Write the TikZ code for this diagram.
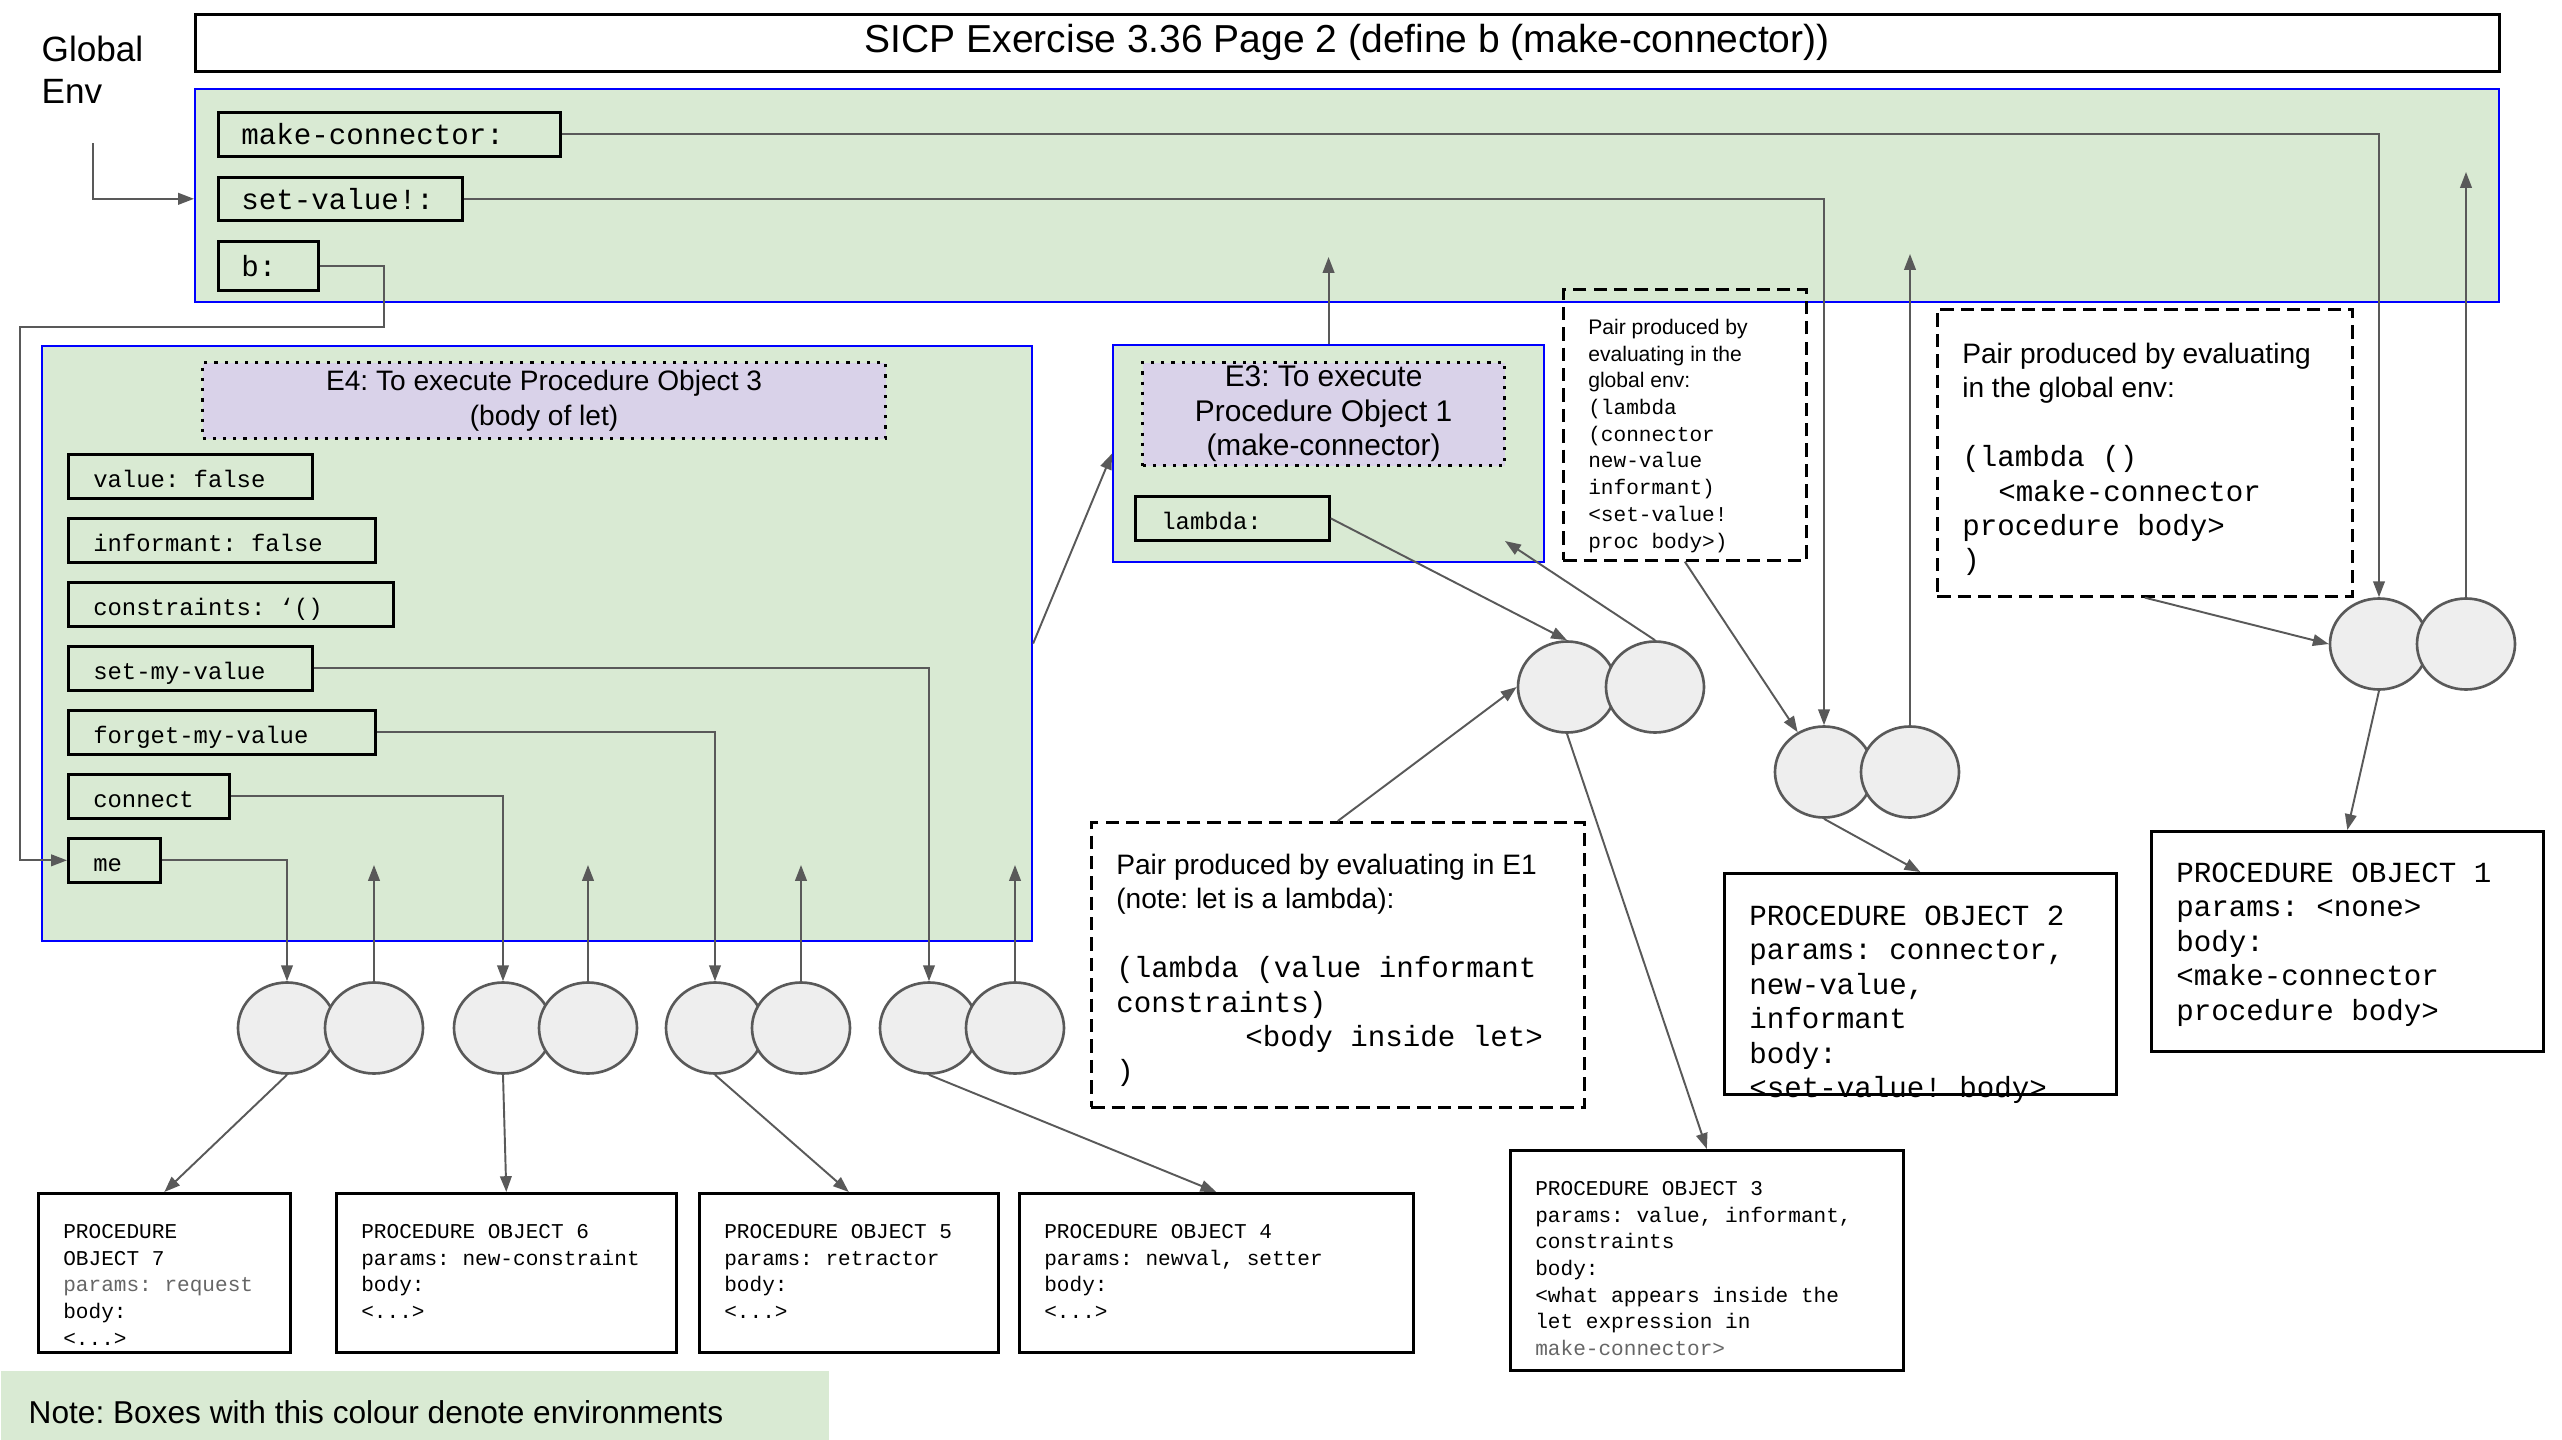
\documentclass[tikz,border=0pt]{standalone}
\usepackage{fontspec}
\setmainfont{Liberation Sans}
\setmonofont{Liberation Mono}
\usetikzlibrary{arrows.meta,shapes.geometric}

\definecolor{envgreen}{HTML}{D9EAD3}
\definecolor{envblue}{HTML}{0000FF}
\definecolor{hdrlilac}{HTML}{D9D2E9}
\definecolor{cellgray}{HTML}{EEEEEE}
\definecolor{wiregray}{HTML}{595959}
\definecolor{fadetext}{HTML}{666666}

\frenchspacing
\newcommand{\titlefont}{\fontsize{11.1}{13}\selectfont}
\newcommand{\envfont}{\fontsize{10}{12}\selectfont}
\newcommand{\hdrfont}{\fontsize{8}{10}\selectfont}
\newcommand{\hdrbigfont}{\fontsize{8.5}{9.8}\selectfont}
\newcommand{\notesans}{\fontsize{8}{9.8}\selectfont}
\newcommand{\legendfont}{\fontsize{9}{11}\selectfont}
\newcommand{\smallsans}{\fontsize{6}{7.6}\selectfont}
\newcommand{\bigcode}{\ttfamily\fontsize{8.3}{9.8}\selectfont\spaceskip=0.6em\relax}
\newcommand{\midcode}{\ttfamily\fontsize{6.8}{8}\selectfont\spaceskip=0.6em\relax}
\newcommand{\smallcode}{\ttfamily\fontsize{6}{7.6}\selectfont\spaceskip=0.6em\relax}

\begin{document}
\begin{tikzpicture}
  [envbox/.style={draw=envblue, fill=envgreen, line width=0.6pt, anchor=north west, inner sep=0pt},
   hdrbox/.style={draw, dotted, fill=hdrlilac, line width=0.9pt, anchor=north west, align=flush center, inner sep=0pt},
   gvar/.style={draw, line width=0.75pt, anchor=north west, align=flush left, inner xsep=0.23cm, inner ysep=0pt, font=\bigcode, text height=6.2pt, text depth=0.4pt},
   evar/.style={draw, line width=0.75pt, anchor=north west, align=flush left, inner xsep=0.25cm, inner ysep=0pt, font=\midcode, text height=6.1pt, text depth=0pt, minimum height=0.44cm},
   procbox/.style={draw, line width=0.75pt, anchor=north west, align=flush left, inner xsep=0.25cm, inner ysep=0pt},
   pairnote/.style={draw, line width=0.75pt, dash pattern=on 3.8pt off 2pt, anchor=north west, align=flush left, inner xsep=0.25cm, inner ysep=0pt},
   cell/.style={ellipse, draw=wiregray, fill=cellgray, line width=0.75pt, minimum width=0.98cm, minimum height=0.91cm, inner sep=0pt},
   link/.style={draw=wiregray, line width=0.55pt, -{Triangle[length=4.5pt,width=3.3pt]}}]
  \useasboundingbox (0,0) rectangle (25.62,-14.40);

  % global frame
  \node[anchor=north west, align=flush left, text width=1.5cm, inner sep=0pt, text height=0.31cm, font=\envfont] (genvlabel) at (0.41,-0.30) {Global\\Env};
  \node[draw, line width=0.75pt, anchor=north west, minimum width=23.04cm, minimum height=0.57cm, inner sep=0pt, font=\titlefont] (title) at (1.94,-0.13) {SICP Exercise 3.36 Page 2 (define b (make-connector))};
  \node[envbox, minimum width=23.04cm, minimum height=2.13cm] (global) at (1.94,-0.88) {};
  \node[gvar, text width=2.96cm, minimum height=0.44cm] (mk) at (2.17,-1.11) {make-connector:};
  \node[gvar, text width=1.98cm, minimum height=0.43cm] (setv) at (2.17,-1.76) {set-value!:};
  \node[gvar, text width=0.54cm, minimum height=0.49cm] (bvar) at (2.17,-2.40) {b:};

  % E4
  \node[envbox, minimum width=9.90cm, minimum height=5.95cm] (e4) at (0.41,-3.45) {};
  \node[hdrbox, minimum width=6.83cm, minimum height=0.76cm, font=\hdrfont] (e4hdr) at (2.01,-3.61) {E4: To execute Procedure Object 3\\(body of let)};
  \node[evar, text width=1.94cm] (value) at (0.67,-4.53) {value: false};
  \node[evar, text width=2.57cm] (informant) at (0.67,-5.17) {informant: false};
  \node[evar, text width=2.75cm] (constr) at (0.67,-5.81) {constraints: ‘()};
  \node[evar, text width=1.94cm] (setmy) at (0.67,-6.45) {set-my-value};
  \node[evar, text width=2.57cm] (forget) at (0.67,-7.09) {forget-my-value};
  \node[evar, text width=1.11cm] (conn) at (0.67,-7.73) {connect};
  \node[evar, text width=0.42cm] (me) at (0.67,-8.37) {me};

  % E3
  \node[envbox, minimum width=4.31cm, minimum height=2.17cm] (e3) at (11.12,-3.44) {};
  \node[hdrbox, minimum width=3.62cm, minimum height=1.03cm, font=\hdrbigfont] (e3hdr) at (11.41,-3.61) {E3: To execute\\Procedure Object 1\\(make-connector)};
  \node[evar, text width=1.42cm, inner xsep=0.26cm] (lam) at (11.34,-4.95) {lambda:};

  % pairs produced by evaluation
  \node[pairnote, text width=1.93cm, text height=0.45cm, text depth=2.26cm, font=\smallsans] (note2) at (15.62,-2.88) {Pair produced by\\evaluating in the\\global env:\\\smallcode (lambda\\(connector\\new-value\\informant)\\<set-value!\\proc body>)};
  \node[pairnote, text width=4.43cm, text height=0.52cm, text depth=2.33cm, font=\notesans] (note1) at (10.90,-8.21) {Pair produced by evaluating in E1\\(note: let is a lambda):\\[9.8pt]\bigcode (lambda (value informant\\constraints)\\\hspace*{1.29cm}<body inside let>\\)};
  \node[pairnote, text width=3.65cm, text height=0.54cm, text depth=2.33cm, font=\notesans] (note3) at (19.36,-3.08) {Pair produced by evaluating\\in the global env:\\[9.8pt]\bigcode (lambda ()\\\hspace*{0.36cm}<make-connector\\procedure body>\\)};

  % procedure objects
  \node[procbox, text width=3.42cm, text height=0.51cm, text depth=1.69cm, font=\bigcode] (po1) at (21.50,-8.30) {PROCEDURE OBJECT 1\\params: <none>\\body:\\<make-connector\\procedure body>};
  \node[procbox, text width=3.42cm, text height=0.52cm, text depth=1.69cm, font=\bigcode] (po2) at (17.23,-8.72) {PROCEDURE OBJECT 2\\params: connector,\\new-value,\\informant\\body:\\<set-value! body>};
  \node[procbox, text width=3.43cm, text height=0.45cm, text depth=1.75cm, font=\smallcode] (po3) at (15.09,-11.49) {PROCEDURE OBJECT 3\\params: value, informant,\\constraints\\body:\\<what appears inside the\\let expression in\\{\color{fadetext}make-connector>}};
  \node[procbox, text width=2.02cm, text height=0.45cm, text depth=1.14cm, font=\smallcode] (po7) at (0.37,-11.92) {PROCEDURE\\OBJECT 7\\{\color{fadetext}params: request}\\body:\\<...>};
  \node[procbox, text width=2.90cm, text height=0.45cm, text depth=1.14cm, font=\smallcode] (po6) at (3.35,-11.92) {PROCEDURE OBJECT 6\\params: new-constraint\\body:\\<...>};
  \node[procbox, text width=2.49cm, text height=0.45cm, text depth=1.14cm, font=\smallcode] (po5) at (6.98,-11.92) {PROCEDURE OBJECT 5\\params: retractor\\body:\\<...>};
  \node[procbox, text width=3.44cm, text height=0.45cm, text depth=1.14cm, font=\smallcode] (po4) at (10.18,-11.92) {PROCEDURE OBJECT 4\\params: newval, setter\\body:\\<...>};

  \node[fill=envgreen, anchor=north west, align=flush left, text width=7.72cm, inner xsep=0.28cm, inner ysep=0pt, text height=0.53cm, text depth=0.17cm, font=\legendfont] (legend) at (0,-13.70) {Note: Boxes with this colour denote environments};

  % pairs
  \node[cell] (po3l) at (15.67,-6.87) {};
  \node[cell] (po3r) at (16.55,-6.87) {};
  \node[cell] (po2l) at (18.24,-7.72) {};
  \node[cell] (po2r) at (19.10,-7.72) {};
  \node[cell] (po1l) at (23.79,-6.44) {};
  \node[cell] (po1r) at (24.66,-6.44) {};
  \foreach \i/\x/\y in {1/2.87/3.74, 2/5.03/5.88, 3/7.15/8.01, 4/9.29/10.15} {
    \node[cell] (l\i) at (\x,-10.28) {};
    \node[cell] (r\i) at (\y,-10.28) {};
  }

  \coordinate (genv) at (0.93,-1.43);
  \coordinate (bturn) at (3.84,-3.27);
  \coordinate (bdrop) at (0.20,-3.27);
  \coordinate (e4up) at (0,-8.65);
  \coordinate (e3up) at (0,-2.57);
  \coordinate (po2up) at (0,-2.54);
  \coordinate (po1up) at (0,-1.72);
  \coordinate (e3in) at (15.05,-5.41);

  % pointers
  \draw[link] (genv) |- (global.west |- setv.west);
  \draw[link] (mk.east) -| (po1l.north);
  \draw[link] (setv.east) -| (po2l.north);
  \draw[link] (bvar.east) -| (bturn) -- (bdrop) |- (me.west);
  \draw[link] (po1r.north) -- (po1r.north |- po1up);
  \draw[link] (po2r.north) -- (po2r.north |- po2up);
  \draw[link] (e3.north) -- (e3.north |- e3up);
  \draw[link] (me.east) -| (l1.north);
  \draw[link] (conn.east) -| (l2.north);
  \draw[link] (forget.east) -| (l3.north);
  \draw[link] (setmy.east) -| (l4.north);
  \foreach \i in {1,...,4}
    \draw[link] (r\i.north) -- (r\i.north |- e4up);
  \draw[link] (l1.south) -- (po7.north);
  \draw[link] (l2.south) -- (po6.north);
  \draw[link] (l3.south) -- (po5.north);
  \draw[link] (l4.south) -- (po4.north);
  \draw[link] (e4.east) -- (e3.west);
  \draw[link] (lam.east) -- (po3l.north);
  \draw[link] (po3r.north) -- (e3in);
  \draw[link] (po3l.south) -- (po3.north);
  \draw[link] (note1.north) -- (po3l.west);
  \draw[link] (note2.south) -- (po2l);
  \draw[link] (po2l.south) -- (po2.north);
  \draw[link] (note3.south) -- (po1l.west);
  \draw[link] (po1l.south) -- (po1.north);
\end{tikzpicture}
\end{document}
